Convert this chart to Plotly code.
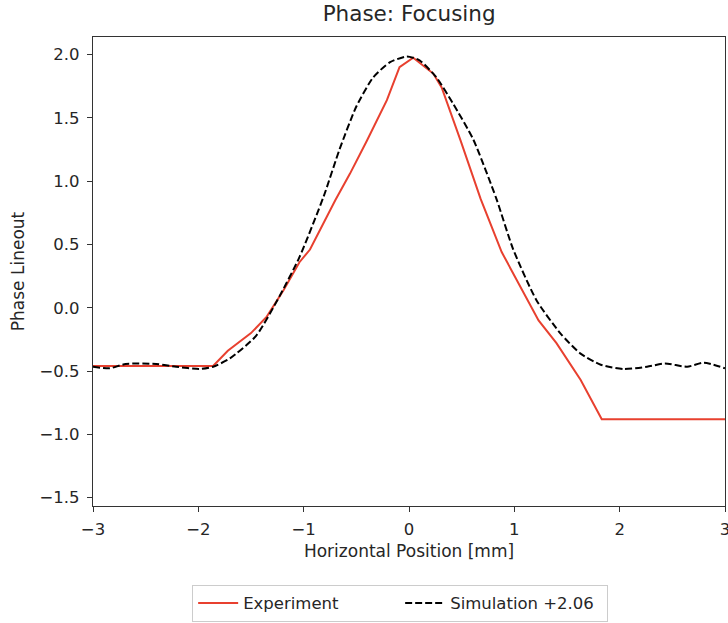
import plotly.graph_objects as go

# Experiment (red solid)
exp_x = [-3.0, -1.86, -1.72, -1.50, -1.35, -1.19, -1.04, -0.94, -0.70, -0.56, -0.40, -0.21, -0.09, 0.01, 0.04,
         0.23, 0.31, 0.49, 0.68, 0.88, 1.23, 1.40, 1.63, 1.83, 3.0]
exp_y = [-0.46, -0.46, -0.34, -0.20, -0.07, 0.14, 0.36, 0.46, 0.85, 1.06, 1.32, 1.64, 1.90, 1.96, 1.975,
         1.85, 1.74, 1.32, 0.86, 0.44, -0.10, -0.28, -0.57, -0.88, -0.88]

# Simulation +2.06 (black dashed)
sim_x = [-3.0, -2.84, -2.69, -2.40, -2.21, -1.99, -1.86, -1.70, -1.45, -1.23, -1.04, -0.81, -0.66, -0.50,
         -0.34, -0.18, -0.02, 0.10, 0.26, 0.42, 0.61, 0.83, 0.99, 1.21, 1.435, 1.625, 1.82, 2.04, 2.26,
         2.43, 2.64, 2.80, 3.0]
sim_y = [-0.466, -0.478, -0.444, -0.444, -0.466, -0.484, -0.466, -0.40, -0.22, 0.09, 0.40, 0.88, 1.25, 1.59,
         1.82, 1.94, 1.985, 1.955, 1.82, 1.61, 1.33, 0.86, 0.46, 0.06, -0.20, -0.36, -0.45, -0.484, -0.466,
         -0.44, -0.466, -0.434, -0.478]

x_ticks = [-3, -2, -1, 0, 1, 2, 3]
y_ticks = [-1.5, -1.0, -0.5, 0.0, 0.5, 1.0, 1.5, 2.0]

font_family = "DejaVu Sans"
txt = "#262626"

fig = go.Figure()
fig.add_trace(go.Scatter(x=exp_x, y=exp_y, mode="lines", name="Experiment",
                         line=dict(color="#e8402f", width=2)))
fig.add_trace(go.Scatter(x=sim_x, y=sim_y, mode="lines", name="Simulation +2.06",
                         line=dict(color="black", width=2, dash="7px,3px", shape="spline", smoothing=0.6)))

axis_common = dict(showline=True, linecolor="#333333", linewidth=1.2, mirror=True,
                   ticks="outside", ticklen=5, tickwidth=1, tickcolor="#333333",
                   showgrid=False, zeroline=False, ticklabeloverflow="allow", automargin=False,
                   tickfont=dict(family=font_family, size=16.5, color=txt))

fig.update_layout(
    width=728, height=623,
    margin=dict(l=93, r=3, t=37, b=117, autoexpand=False),
    paper_bgcolor="white", plot_bgcolor="white",
    title=dict(text="Phase: Focusing", x=0.562, xanchor="center", y=0.99, yanchor="top",
               font=dict(family=font_family, size=21.5, color=txt)),
    xaxis=dict(range=[-3, 3], tickvals=x_ticks,
               ticktext=[str(v).replace("-", "\u2212") for v in x_ticks],
               ticklabelstandoff=3,
               title=dict(text="Horizontal Position [mm]", standoff=7,
                          font=dict(family=font_family, size=17, color=txt)),
               **axis_common),
    yaxis=dict(range=[-1.566, 2.139], tickvals=y_ticks,
               ticktext=[f"{v:.1f}".replace("-", "\u2212") for v in y_ticks],
               ticklabelstandoff=4,
               title=dict(text="Phase Lineout", standoff=10,
                          font=dict(family=font_family, size=17, color=txt)),
               **axis_common),
    legend=dict(orientation="h", x=0.486, xanchor="center", y=-0.168, yanchor="top",
                bordercolor="#cccccc", borderwidth=1, bgcolor="white",
                font=dict(family=font_family, size=16.5, color=txt),
                itemwidth=40, entrywidthmode="pixels", entrywidth=152),
    showlegend=True,
)

fig.write_html("out.html")
